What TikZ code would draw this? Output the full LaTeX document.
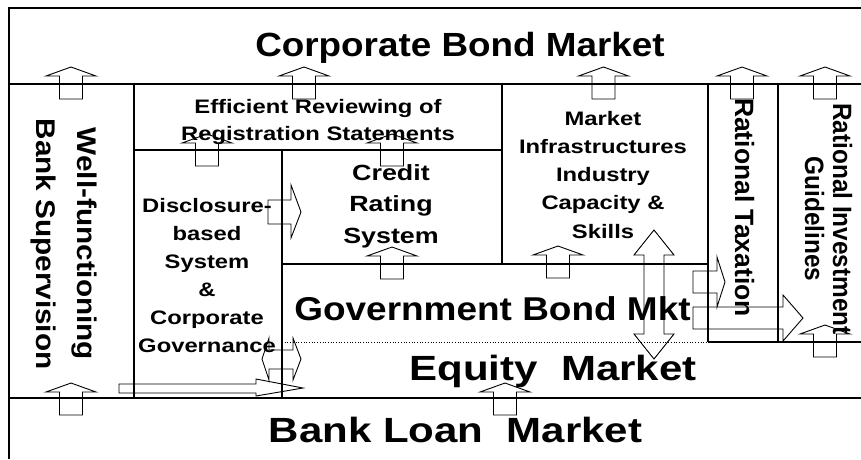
\documentclass[tikz,border=0pt]{standalone}
\usepackage{fontspec}
\setmainfont{Liberation Sans}
\newfontfamily\fsA{Liberation Sans}[FakeStretch=1.10]
\newfontfamily\fsB{Liberation Sans}[FakeStretch=1.20]
\newfontfamily\fsC{Liberation Sans}[FakeStretch=1.12]
\newfontfamily\fsD{Liberation Sans}[FakeStretch=1.00]
\newfontfamily\fsE{Liberation Sans}[FakeStretch=0.92]
\newfontfamily\fsF{Liberation Sans}[FakeStretch=1.22]
\newfontfamily\fsG{Liberation Sans}[FakeStretch=1.10]
\begin{document}
\begin{tikzpicture}[x=1pt,y=-1pt,line join=miter,
  frame/.style={line width=1.3pt},
  blockarr/.style={draw,line width=0.9pt},
  big/.style={anchor=base,inner sep=0pt},
  txt/.style={anchor=base,inner sep=0pt,align=center},
  uparr/.pic={\draw[blockarr] (-11.5,32)--(-11.5,9)--(-25,9)--(0,0)--(25,9)--(11.5,9)--(11.5,32)--cycle;}]
\useasboundingbox (0,0) rectangle (861,459);
% frame and boxes
\draw[frame] (9,459) -- (9,8) -- (861,8);
\draw[frame] (9,84) -- (861,84);
\draw[frame] (9,398) -- (861,398);
\draw[frame] (134,84) -- (134,398);
\draw[frame] (134,150) -- (502,150);
\draw[frame] (502,84) -- (502,264);
\draw[frame] (282,150) -- (282,398);
\draw[frame] (282,264) -- (708,264);
\draw[frame] (708,84) -- (708,342);
\draw[frame] (778,84) -- (778,342);
\draw[line width=2pt] (708,342) -- (861,342);
\draw[dotted,line width=0.7pt] (282,342) -- (708,342);
% big titles
\node[big,font=\fsA\bfseries\fontsize{33.5}{40}\selectfont] (corp) at (460,56.5) {Corporate Bond Market};
\node[big,font=\fsB\bfseries\fontsize{35}{42}\selectfont] (bank) at (455.5,442) {Bank Loan\ \ Market};
\node[big,font=\fsB\bfseries\fontsize{35}{42}\selectfont] (equity) at (553,380) {Equity\ \ Market};
\node[big,font=\fsC\bfseries\fontsize{33}{40}\selectfont] (gov) at (492.5,320) {Government Bond Mkt};
% small texts (anchor base = baseline of the last line)
\node[txt,font=\fsF\bfseries\fontsize{19.5}{27}\selectfont] (eff) at (318,140) {Efficient Reviewing of\\Registration Statements};
\node[txt,font=\fsF\bfseries\fontsize{19.5}{28.3}\selectfont] (infra) at (603,238.2) {Market\\Infrastructures\\Industry\\Capacity \&\\Skills};
\node[txt,font=\fsF\bfseries\fontsize{22}{31.5}\selectfont] (credit) at (391,243) {Credit\\Rating\\System};
\node[txt,font=\fsF\bfseries\fontsize{19.5}{28}\selectfont] (disc) at (207,352) {Disclosure-\\based\\System\\\&\\Corporate\\Governance};
% rotated texts
\node[txt,rotate=-90,font=\fsG\bfseries\fontsize{27}{41}\selectfont] (bsup) at (36,244) {Well-functioning\\Bank Supervision};
\node[txt,rotate=-90,font=\fsD\bfseries\fontsize{26.5}{30}\selectfont] (tax) at (735,207.5) {Rational Taxation};
\node[txt,rotate=-90,font=\fsE\bfseries\fontsize{26.5}{28}\selectfont] (inv) at (805,219) {Rational Investment\\Guidelines};
% up arrows
\pic at (71,67) {uparr};
\pic at (304,67) {uparr};
\pic at (603.5,67) {uparr};
\pic at (742,67) {uparr};
\pic at (825,67) {uparr};
\pic at (207,134) {uparr};
\pic at (392,134) {uparr};
\pic at (392,247) {uparr};
\pic at (558,246) {uparr};
\pic at (71,383) {uparr};
\pic at (505,383) {uparr};
\pic at (825,325) {uparr};
% right arrows
\draw[blockarr] (268,200)--(291,200)--(291,185)--(301,212)--(291,238)--(291,224)--(268,224)--cycle;
\draw[blockarr] (262,359)--(269,338)--(269,350)--(293,350)--(293,338)--(301,359)--(293,380)--(293,369)--(269,369)--(269,380)--cycle;
\draw[blockarr] (119,384)--(256,384)--(256,379)--(303,388)--(256,396)--(256,393)--(119,393)--cycle;
\draw[blockarr] (693,271)--(717,271)--(717,257)--(725,282)--(717,307)--(717,293)--(693,293)--cycle;
\draw[blockarr] (693,307)--(783,307)--(783,295)--(803,318)--(783,341)--(783,329)--(693,329)--cycle;
% up-down arrow
\draw[blockarr] (654,230)--(674,255)--(664,255)--(664,334)--(674,334)--(654,359)--(634,334)--(644,334)--(644,255)--(634,255)--cycle;
\end{tikzpicture}
\end{document}
